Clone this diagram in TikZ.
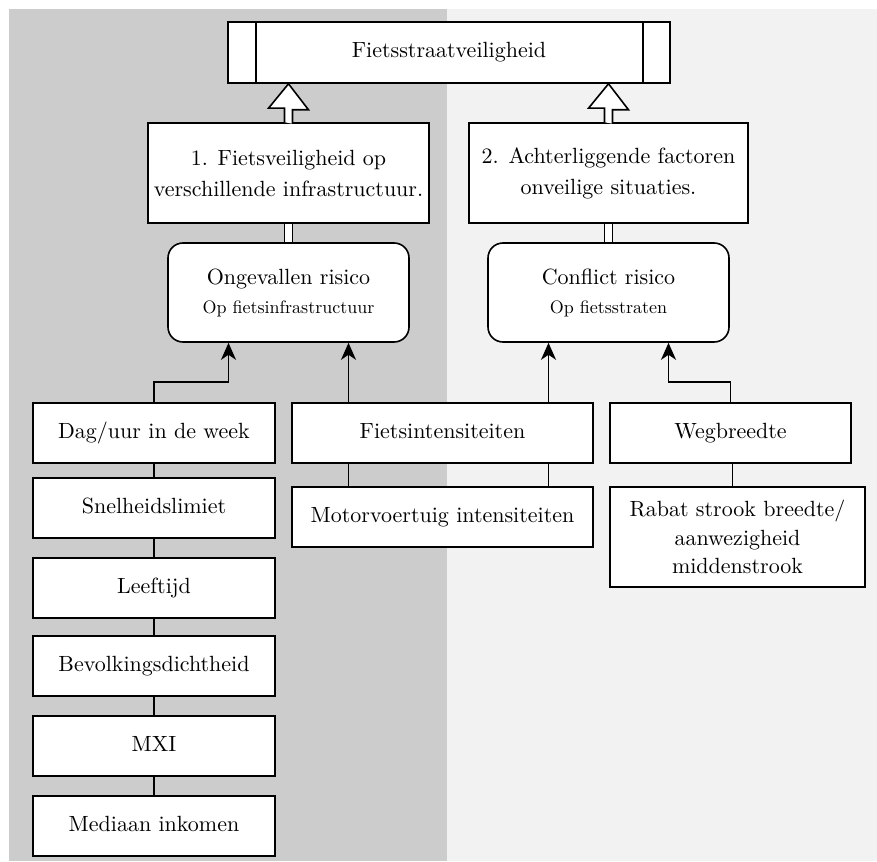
\documentclass[tikz,border=0pt]{standalone}
\usepackage{fontspec}
\setmainfont{lmroman10-regular.otf}
\usetikzlibrary{arrows.meta,calc}
\definecolor{panelL}{HTML}{CCCCCC}
\definecolor{panelR}{HTML}{F2F2F2}
\begin{document}
\begin{tikzpicture}[x=1pt,y=-1pt,
  lw/.style={line width=1.6pt},
  box/.style={lw,draw=black,fill=white,rectangle,inner sep=0pt,align=center,
    font=\fontsize{22}{31}\selectfont},
  onebox/.style={box,text height=16pt,text depth=5pt},
  rbox/.style={box,rounded corners=15pt,font=\fontsize{22}{29}\selectfont},
  arr/.style={lw,-{Stealth[length=17pt,width=15pt,inset=5pt]}},
  link/.style={lw},
  hollow/.style={lw,draw=black,fill=white,line join=miter}
]
\useasboundingbox (0,0) rectangle (877,861);
\fill[white] (0,0) rectangle (877,861);
\fill[panelL] (9,9) rectangle (447,861);
\fill[panelR] (447,9) rectangle (877,861);

% top process box
\node[box,minimum width=442pt,minimum height=61pt,text height=16pt,text depth=5pt] (top) at (449,52.5) {Fietsstraatveiligheid};
\draw[lw] ([xshift=29pt]top.north west) -- ([xshift=29pt]top.south west);
\draw[lw] ([xshift=-28pt]top.north east) -- ([xshift=-28pt]top.south east);

% level 1 boxes
\node[box,minimum width=281pt,minimum height=100pt] (b1) at (288.5,173) {1. Fietsveiligheid op\\verschillende infrastructuur.};
\node[box,minimum width=279pt,minimum height=100pt] (b2) at (608.5,173) {2. Achterliggende factoren\\onveilige situaties.};

% rounded boxes
\node[rbox,minimum width=241pt,minimum height=99pt] (r1) at (288.5,292.5) {Ongevallen risico\\{\fontsize{18}{24}\selectfont Op fietsinfrastructuur}};
\node[rbox,minimum width=241pt,minimum height=99pt] (r2) at (608.5,292.5) {Conflict risico\\{\fontsize{18}{24}\selectfont Op fietsstraten}};

% hollow arrows
\draw[hollow] (b1.north) ++(-4,0) -- ++(0,-14) -- ++(-16,0) -- (b1.north |- top.south) -- ++(20,26) -- ++(-16,0) -- ++(0,14);
\draw[hollow] (b2.north) ++(-4,0) -- ++(0,-14) -- ++(-16,0) -- (b2.north |- top.south) -- ++(20,26) -- ++(-16,0) -- ++(0,14);

% double links
\draw[lw,double,double distance=6.4pt] (b1.south) -- (r1.north);
\draw[lw,double,double distance=6.4pt] (b2.south) -- (r2.north);

% left column
\node[onebox,minimum width=242pt,minimum height=60pt] (dag) at (154,433) {Dag/uur in de week};
\node[onebox,minimum width=242pt,minimum height=60pt] (snel) at (154,508) {Snelheidslimiet};
\node[onebox,minimum width=242pt,minimum height=60pt] (leef) at (154,588) {Leeftijd};
\node[onebox,minimum width=242pt,minimum height=60pt] (bev) at (154,666) {Bevolkingsdichtheid};
\node[onebox,minimum width=242pt,minimum height=60pt] (mxi) at (154,746) {MXI};
\node[onebox,minimum width=242pt,minimum height=60pt] (med) at (154,826) {Mediaan inkomen};

% middle column
\node[onebox,minimum width=301pt,minimum height=60pt] (fiets) at (442.5,433) {Fietsintensiteiten};
\node[onebox,minimum width=301pt,minimum height=60pt] (motor) at (442.5,517) {Motorvoertuig intensiteiten};

% right column
\node[onebox,minimum width=241pt,minimum height=60pt] (weg) at (730.5,433) {Wegbreedte};
\node[box,minimum width=255pt,minimum height=100pt,font=\fontsize{22}{28.5}\selectfont] (rabat) at (737.5,537) {Rabat strook breedte/\\aanwezigheid\\middenstrook};

% links in left column
\draw[link] (dag) -- (snel);
\draw[link] (snel) -- (leef);
\draw[link] (leef) -- (bev);
\draw[link] (bev) -- (mxi);
\draw[link] (mxi) -- (med);

% links fiets - motor
\draw[link] ([xshift=60pt]r1.south |- fiets.south) -- ([xshift=60pt]r1.south |- motor.north);
\draw[link] ([xshift=-60pt]r2.south |- fiets.south) -- ([xshift=-60pt]r2.south |- motor.north);
\draw[link] ([xshift=2pt]weg.south) -- ([xshift=2pt]weg.south |- rabat.north);

% arrows into risk boxes
\draw[arr] (dag.north) -- ++(0,-20) -| ([xshift=-60pt]r1.south);
\draw[arr] ([xshift=60pt]r1.south |- fiets.north) -- ([xshift=60pt]r1.south);
\draw[arr] ([xshift=-60pt]r2.south |- fiets.north) -- ([xshift=-60pt]r2.south);
\draw[arr] (weg.north) -- ++(0,-20) -| ([xshift=60pt]r2.south);
\end{tikzpicture}
\end{document}
